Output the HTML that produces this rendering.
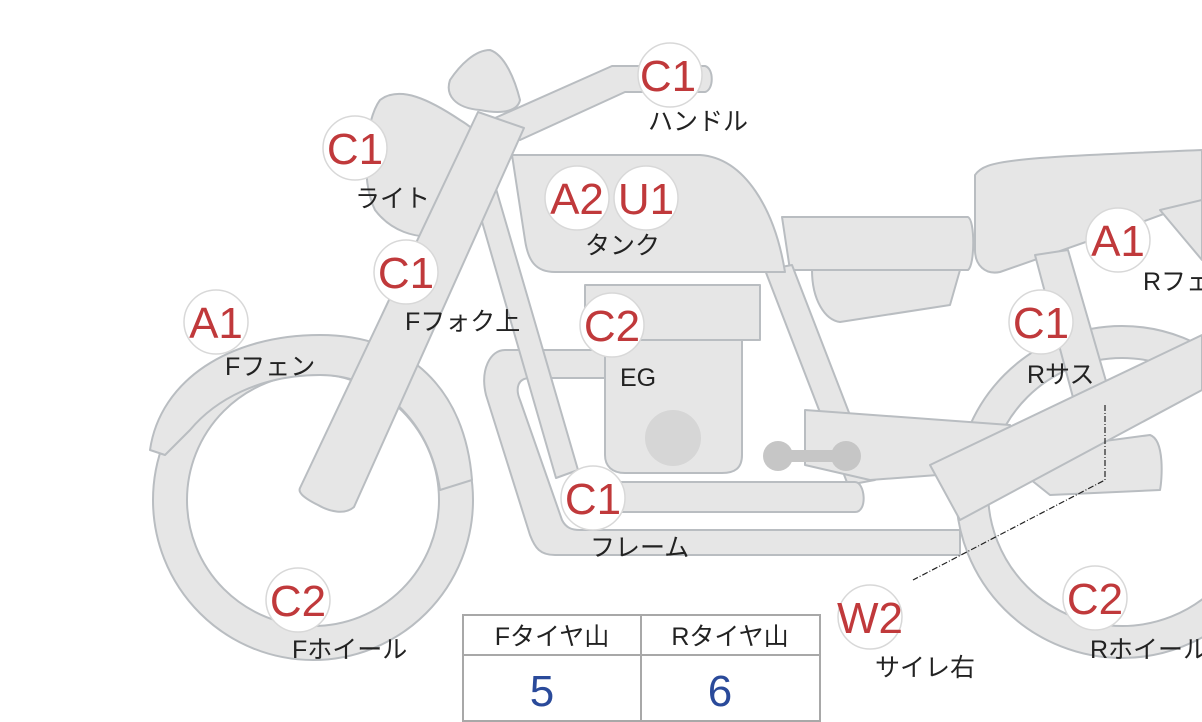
<!DOCTYPE html>
<html><head><meta charset="utf-8"><style>
html,body{margin:0;padding:0;background:#fff;}
svg{display:block}
text{font-family:"Liberation Sans","Noto Sans CJK JP",sans-serif;}
.s{fill:#e6e6e6;stroke:#b9bdc1;stroke-width:2;stroke-linejoin:round}
.c{fill:#fff;stroke:#d8d8d8;stroke-width:1.5}
.r{fill:#c0393b;font-size:44px;text-anchor:middle}
.k{fill:#222;font-size:25px}
</style></head><body>
<svg width="1202" height="722" viewBox="0 0 1202 722" xmlns="http://www.w3.org/2000/svg">
<!-- rear wheel -->
<circle cx="1122" cy="492" r="150" fill="none" stroke="#b9bdc1" stroke-width="34"/>
<circle cx="1122" cy="492" r="150" fill="none" stroke="#e6e6e6" stroke-width="30"/>
<!-- front wheel -->
<circle cx="313" cy="500" r="143" fill="none" stroke="#b9bdc1" stroke-width="36"/>
<circle cx="313" cy="500" r="143" fill="none" stroke="#e6e6e6" stroke-width="32"/>
<!-- front fender -->
<path class="s" d="M150,450 C160,380 230,335 320,335 C410,335 465,390 472,480 L440,490 C430,420 380,375 320,375 C260,375 215,400 190,430 L165,455 Z"/>
<!-- seat rear & side -->
<path class="s" d="M975,175 C985,160 1010,158 1202,150 L1202,200 L1120,230 L1000,272 C985,275 975,265 975,250 Z"/>
<path class="s" d="M1160,210 L1202,200 L1202,260 Z"/>
<path class="s" d="M1000,455 L1150,435 C1165,440 1162,480 1160,490 L1050,495 Z"/>
<!-- rear shock -->
<path class="s" d="M1035,255 L1068,250 L1110,395 L1075,405 Z"/>
<!-- seat front -->
<path class="s" d="M782,217 L968,217 C975,220 975,265 968,270 L790,270 Z"/>
<path class="s" d="M812,270 L960,270 L950,305 L840,322 C825,320 812,300 812,270 Z"/>
<!-- rear frame tube -->
<path class="s" d="M765,270 L792,265 L875,480 L848,485 Z"/>
<!-- swingarm -->
<path class="s" d="M805,410 L1010,425 L1005,470 L870,480 L805,465 Z"/>
<!-- frame loops -->
<path class="s" d="M505,350 L610,350 L610,378 L530,378 C518,378 515,388 520,400 L562,520 C566,528 572,530 580,530 L960,530 L960,555 L555,555 C540,555 535,548 530,535 L486,395 C480,370 490,350 505,350 Z"/>
<path class="s" d="M590,482 L855,482 C865,482 868,512 855,512 L590,512 Z"/>
<!-- downtube -->
<path class="s" d="M470,180 L492,175 L578,470 L556,478 Z"/>
<!-- engine -->
<path class="s" d="M605,340 L742,340 L742,455 C742,468 735,473 722,473 L625,473 C612,473 605,466 605,455 Z"/>
<circle cx="673" cy="438" r="28" fill="#d6d6d6"/>
<rect class="s" x="585" y="285" width="175" height="55"/>
<!-- footpeg -->
<rect x="778" y="450" width="70" height="12" rx="6" fill="#c6c6c6"/>
<circle cx="778" cy="456" r="15" fill="#c6c6c6"/><circle cx="846" cy="456" r="15" fill="#c6c6c6"/>
<!-- muffler -->
<path class="s" d="M930,465 L1202,335 L1202,390 L960,520 Z"/>
<!-- tank -->
<path class="s" d="M512,155 L700,155 C745,158 775,210 785,272 L555,272 C535,272 528,260 525,240 Z"/>
<!-- headlight -->
<path class="s" d="M380,100 C400,85 430,100 460,120 C485,135 492,150 488,180 C485,210 470,230 440,235 C415,240 390,230 375,210 C360,180 365,120 380,100 Z"/>
<!-- windscreen -->
<path class="s" d="M490,50 C505,55 515,80 520,100 C518,110 505,115 480,110 C455,108 445,95 450,80 C460,65 475,50 490,50 Z"/>
<!-- handlebar -->
<path class="s" d="M495,118 L612,66 L705,66 C714,68 714,90 705,92 L625,92 L520,140 Z"/>
<!-- fork -->
<path class="s" d="M300,488 L478,112 L524,128 L354,507 C345,515 330,512 318,505 C302,497 298,492 300,488 Z"/>
<!-- leader -->
<path d="M1105,405 L1105,480 L913,580" fill="none" stroke="#222" stroke-width="1.2" stroke-dasharray="6,2,1,2"/>
<!-- label circles -->
<g>
<circle class="c" cx="670" cy="75" r="32"/><text class="r" x="668" y="91">C1</text>
<circle class="c" cx="355" cy="148" r="32"/><text class="r" x="355" y="164">C1</text>
<circle class="c" cx="577" cy="198" r="32"/><text class="r" x="577" y="214">A2</text>
<circle class="c" cx="646" cy="198" r="32"/><text class="r" x="646" y="214">U1</text>
<circle class="c" cx="406" cy="272" r="32"/><text class="r" x="406" y="288">C1</text>
<circle class="c" cx="216" cy="322" r="32"/><text class="r" x="216" y="338">A1</text>
<circle class="c" cx="612" cy="325" r="32"/><text class="r" x="612" y="341">C2</text>
<circle class="c" cx="593" cy="498" r="32"/><text class="r" x="593" y="514">C1</text>
<circle class="c" cx="298" cy="600" r="32"/><text class="r" x="298" y="616">C2</text>
<circle class="c" cx="870" cy="617" r="32"/><text class="r" x="870" y="633">W2</text>
<circle class="c" cx="1095" cy="598" r="32"/><text class="r" x="1095" y="614">C2</text>
<circle class="c" cx="1041" cy="322" r="32"/><text class="r" x="1041" y="338">C1</text>
<circle class="c" cx="1118" cy="240" r="32"/><text class="r" x="1118" y="256">A1</text>
</g>
<g class="k">
<text class="k" x="648" y="130">ハンドル</text>
<text class="k" x="355" y="207">ライト</text>
<text class="k" x="585" y="254">タンク</text>
<text class="k" x="405" y="330">Fフォク上</text>
<text class="k" x="225" y="375">Fフェン</text>
<text class="k" x="620" y="386">EG</text>
<text class="k" x="590" y="556">フレーム</text>
<text class="k" x="292" y="658">Fホイール</text>
<text class="k" x="875" y="676">サイレ右</text>
<text class="k" x="1090" y="658">Rホイール</text>
<text class="k" x="1027" y="383">Rサス</text>
<text class="k" x="1143" y="290">Rフェン</text>
</g>
<!-- table -->
<rect x="463" y="615" width="357" height="106" fill="#fff" stroke="#a8a8a8" stroke-width="2"/>
<line x1="463" y1="655" x2="820" y2="655" stroke="#a8a8a8" stroke-width="2"/>
<line x1="641" y1="615" x2="641" y2="721" stroke="#a8a8a8" stroke-width="2"/>
<text class="k" x="552" y="645" text-anchor="middle">Fタイヤ山</text>
<text class="k" x="730" y="645" text-anchor="middle">Rタイヤ山</text>
<text x="542" y="706" text-anchor="middle" font-size="44" fill="#2a4a9a">5</text>
<text x="720" y="706" text-anchor="middle" font-size="44" fill="#2a4a9a">6</text>
</svg>
</body></html>
